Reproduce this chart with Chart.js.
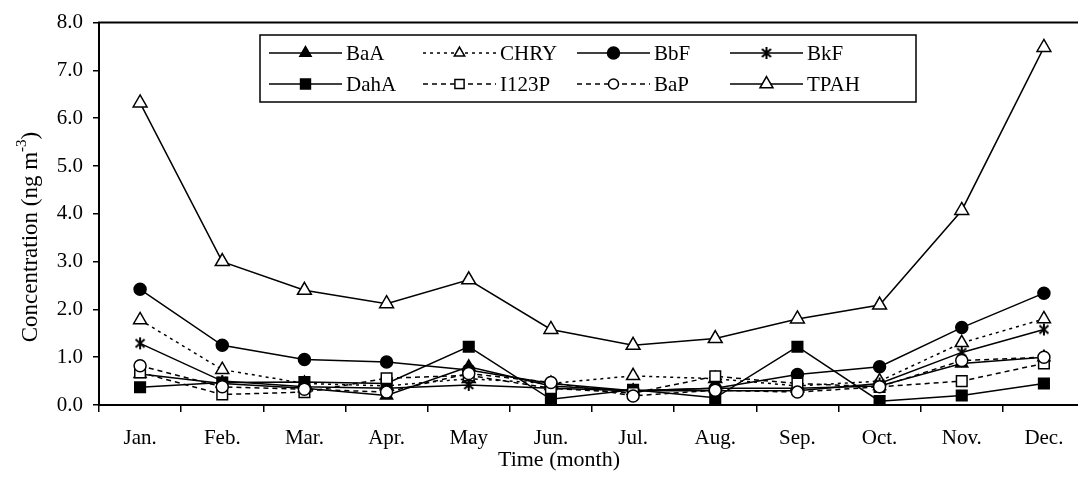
<!DOCTYPE html>
<html><head><meta charset="utf-8">
<script src="https://cdn.jsdelivr.net/npm/chart.js@4.4.1/dist/chart.umd.min.js"></script>
<style>html,body{margin:0;padding:0;overflow:hidden;background:#fff}#wrap{position:absolute;left:0;top:0;width:1100px;height:491px}</style>
</head><body><div id="wrap"><canvas id="c"></canvas></div>
<script>
const months = ['Jan.','Feb.','Mar.','Apr.','May','Jun.','Jul.','Aug.','Sep.','Oct.','Nov.','Dec.'];
const yTicks = [0,1,2,3,4,5,6,7,8];
const BaA   = [0.65,0.45,0.35,0.20,0.80,0.40,0.30,0.35,0.35,0.40,0.87,1.00];
const CHRY  = [1.78,0.74,0.45,0.40,0.55,0.45,0.61,0.55,0.40,0.50,1.30,1.80];
const BbF   = [2.42,1.25,0.95,0.90,0.73,0.45,0.30,0.35,0.64,0.80,1.62,2.34];
const BkF   = [1.29,0.50,0.38,0.35,0.42,0.35,0.30,0.30,0.30,0.45,1.10,1.58];
const DahA  = [0.37,0.47,0.48,0.45,1.22,0.12,0.32,0.15,1.22,0.08,0.20,0.45];
const I123P = [0.68,0.22,0.27,0.56,0.62,0.35,0.25,0.60,0.45,0.38,0.50,0.87];
const BaP   = [0.82,0.38,0.33,0.27,0.66,0.47,0.19,0.31,0.27,0.38,0.93,1.00];
const TPAH  = [6.32,3.00,2.40,2.12,2.62,1.58,1.25,1.39,1.80,2.09,4.07,7.48];

const FONT = '"Liberation Serif","Times New Roman",serif';

// asterisk marker
const ast = document.createElement('canvas');
ast.width = 14; ast.height = 14;
(function(){const g=ast.getContext('2d');g.strokeStyle='#000';g.lineWidth=2;g.beginPath();
g.moveTo(2.5,3);g.lineTo(11.5,11);g.moveTo(11.5,3);g.lineTo(2.5,11);g.moveTo(7,1);g.lineTo(7,13);g.stroke();})();

let idx = 0;
function ds(label, data, style, filled, radius, dash, legendRadius){
  const o = {label, data, borderColor:'#000', borderWidth:1.5, borderDash:dash||[],
    pointStyle:style, pointRadius:radius, pointBorderWidth:1.5, pointBorderColor:'#000',
    pointBackgroundColor: filled ? '#000' : '#fff', fill:false, tension:0, order: -idx,
    legendRadius: legendRadius || radius};
  idx++;
  return o;
}
const datasets = [
  ds('BaA', BaA, 'triangle', true, 7, null, 6.5),
  ds('CHRY', CHRY, 'triangle', false, 7.5, [3,4], 6),
  ds('BbF', BbF, 'circle', true, 6, null, 6),
  ds('BkF', BkF, ast, true, 6),
  ds('DahA', DahA, 'rect', true, 7.5, null, 7),
  ds('I123P', I123P, 'rect', false, 7.5, [5,4], 6.5),
  ds('BaP', BaP, 'circle', false, 6, [5,4], 5),
  ds('TPAH', TPAH, 'triangle', false, 8, null, 7.5)
];

const decor = {
  id:'decor',
  afterDraw(chart){
    const ctx = chart.ctx, a = chart.chartArea;
    ctx.save();
    ctx.strokeStyle='#000'; ctx.lineWidth=2; ctx.setLineDash([]);
    ctx.beginPath(); ctx.moveTo(a.left-1,a.top); ctx.lineTo(a.right,a.top); ctx.lineTo(a.right,a.bottom); ctx.stroke();
    // legend box
    ctx.lineWidth=1.5;
    ctx.fillStyle='#fff';
    ctx.fillRect(260,35,656,67);
    ctx.strokeRect(260,35,656,67);
    const cols=[269,423,577,730], rows=[53,84], L=73;
    ctx.font='21px '+FONT; ctx.textBaseline='middle'; ctx.fillStyle='#000';
    chart.data.datasets.forEach((d,i)=>{
      const x=cols[i%4], y=rows[Math.floor(i/4)];
      ctx.setLineDash(d.borderDash); ctx.lineWidth=d.borderWidth; ctx.strokeStyle='#000';
      ctx.beginPath(); ctx.moveTo(x,y); ctx.lineTo(x+L,y); ctx.stroke();
      ctx.setLineDash([]);
      ctx.fillStyle=d.pointBackgroundColor; ctx.strokeStyle='#000'; ctx.lineWidth=1.5;
      Chart.helpers.drawPoint(ctx,{pointStyle:d.pointStyle,radius:d.legendRadius,borderWidth:1.5,rotation:0},x+L/2,y);
      ctx.fillStyle='#000';
      ctx.fillText(d.label,x+L+4,y+1);
    });
    // x title
    ctx.textAlign='center'; ctx.font='22px '+FONT;
    ctx.fillText('Time (month)',559,460);
    // y title with superscript
    ctx.translate(31,237); ctx.rotate(-Math.PI/2);
    const t1='Concentration (ng m', t2='-3', t3=')';
    ctx.font='23px '+FONT; const w1=ctx.measureText(t1).width, w3=ctx.measureText(t3).width;
    ctx.font='15px '+FONT; const w2=ctx.measureText(t2).width;
    let sx=-(w1+w2+w3)/2;
    ctx.textAlign='left';
    ctx.font='23px '+FONT; ctx.fillText(t1,sx,0);
    ctx.font='15px '+FONT; ctx.fillText(t2,sx+w1,-9);
    ctx.font='23px '+FONT; ctx.fillText(t3,sx+w1+w2,0);
    ctx.restore();
  }
};

new Chart(document.getElementById('c'),{
  type:'line',
  data:{labels:months, datasets},
  options:{
    responsive:true, maintainAspectRatio:false, animation:false,
    layout:{padding:{top:21,right:15,left:0,bottom:0}},
    plugins:{legend:{display:false},tooltip:{enabled:false}},
    scales:{
      x:{type:'category', offset:true,
        grid:{display:true,drawOnChartArea:false,offset:true,tickLength:7,color:'#000',lineWidth:1.5},
        border:{color:'#000',width:2},
        ticks:{color:'#000',font:{family:FONT,size:21},padding:14,maxRotation:0,autoSkip:false},
        afterFit(s){s.height=86;}},
      y:{min:0,max:8,
        afterBuildTicks(s){s.ticks=yTicks.map(v=>({value:v}));},
        grid:{display:true,drawOnChartArea:false,tickLength:6,color:'#000',lineWidth:1.5},
        border:{color:'#000',width:2},
        ticks:{color:'#000',font:{family:FONT,size:21},padding:10,callback:v=>Number(v).toFixed(1)},
        afterFit(s){s.width=99;}}
    }
  },
  plugins:[decor]
});
</script></body></html>
